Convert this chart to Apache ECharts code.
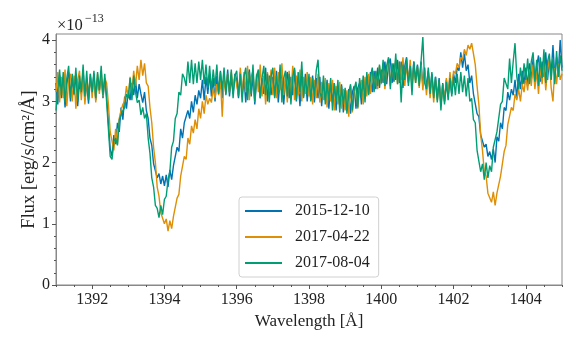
<!DOCTYPE html>
<html>
<head>
    <meta charset="utf-8">
    <title>Si IV spectra</title>
    <script src="https://cdn.jsdelivr.net/npm/echarts@6/dist/echarts.min.js"></script>
    <style type="text/css">
        body {
            margin: 0;
            background: #fff;
        }

        #main {
            width: 581px;
            height: 349px;
        }
    </style>
</head>
<body>
<div id="main"></div>
<script>
    // wavelength grid: 1391.00 .. 1405.00 in 0.05 A steps (one row below = 1 A)
    var waveStart = 1391;
    var waveStep = 0.05;

    // flux in units of 1e-13 erg/s/cm2/A
    var flux20151210 = [
        3.30, 2.95, 3.42, 3.05, 3.35, 2.90, 3.28, 3.48, 3.00, 3.38, 3.10, 3.45, 2.92, 3.32, 3.12, 3.50, 3.02, 3.30, 2.96, 3.40, // 1391
        3.15, 3.45, 3.02, 3.38, 3.18, 3.42, 3.05, 3.35, 3.08, 2.65, 2.22, 2.10, 2.45, 2.30, 2.65, 2.50, 2.90, 2.70, 3.08, 2.88, // 1392
        3.18, 3.02, 3.30, 3.10, 3.35, 3.05, 3.28, 3.12, 2.98, 3.15, 2.85, 2.72, 2.40, 2.28, 1.98, 1.95, 1.75, 1.82, 1.65, 1.78, // 1393
        1.62, 1.80, 1.60, 1.88, 1.72, 1.95, 1.98, 2.25, 2.18, 2.55, 2.40, 2.65, 2.62, 2.85, 2.72, 3.00, 2.82, 3.10, 2.95, 3.18, // 1394
        3.05, 3.35, 3.02, 3.40, 3.12, 3.45, 3.08, 3.38, 3.00, 3.42, 3.15, 3.50, 3.05, 3.38, 3.18, 3.52, 3.08, 3.40, 3.12, 3.45, // 1395
        3.35, 3.05, 3.48, 3.12, 3.40, 2.98, 3.38, 3.52, 3.08, 3.42, 2.95, 3.35, 3.48, 3.05, 3.38, 3.12, 3.55, 3.00, 3.42, 3.10, // 1396
        3.40, 3.08, 3.50, 2.98, 3.35, 3.45, 2.95, 3.32, 3.48, 3.05, 3.40, 3.10, 3.52, 3.00, 3.35, 2.92, 3.42, 3.08, 3.45, 3.00, // 1397
        3.35, 3.02, 3.42, 2.98, 3.38, 3.05, 3.40, 2.92, 3.30, 3.02, 3.35, 2.88, 3.28, 2.98, 3.30, 2.85, 3.25, 2.95, 3.28, 2.82, // 1398
        3.18, 2.85, 3.20, 2.80, 3.15, 3.25, 2.88, 3.22, 3.30, 2.95, 3.35, 3.05, 3.42, 3.12, 3.48, 3.15, 3.50, 3.20, 3.55, 3.22, // 1399
        3.52, 3.30, 3.65, 3.28, 3.60, 3.70, 3.30, 3.62, 3.35, 3.68, 3.30, 3.65, 3.22, 3.58, 3.72, 3.32, 3.60, 3.28, 3.65, 3.35, // 1400
        3.60, 3.30, 3.65, 3.25, 3.55, 3.20, 3.50, 3.15, 3.45, 3.10, 3.40, 3.05, 3.38, 2.95, 3.30, 3.00, 3.35, 3.08, 3.40, 3.12, // 1401
        3.45, 3.30, 3.55, 3.50, 3.80, 3.55, 3.78, 3.50, 3.60, 3.30, 3.42, 3.12, 3.15, 2.80, 2.75, 2.45, 2.48, 2.25, 2.30, 2.10, // 1402
        2.18, 2.05, 2.22, 2.00, 2.42, 2.35, 2.65, 2.55, 2.90, 2.85, 3.15, 3.02, 3.20, 3.10, 3.35, 3.05, 3.45, 3.20, 3.50, 3.28, // 1403
        3.55, 3.25, 3.62, 3.35, 3.70, 3.30, 3.58, 3.75, 3.32, 3.65, 3.40, 3.80, 3.35, 3.68, 3.45, 3.92, 3.40, 3.72, 3.50, 4.00, // 1404
        3.55
    ];
    var flux20170422 = [
        3.15, 3.48, 2.98, 3.40, 3.05, 3.52, 2.92, 3.35, 3.45, 3.00, 3.42, 2.88, 3.35, 3.50, 3.02, 3.40, 2.95, 3.38, 3.10, 3.45, // 1391
        3.05, 3.40, 2.98, 3.45, 3.12, 3.50, 3.08, 3.38, 3.30, 2.95, 2.50, 2.35, 2.20, 2.55, 2.30, 2.72, 2.85, 2.95, 3.00, 3.25, // 1392
        3.05, 3.40, 3.15, 3.50, 3.25, 3.58, 3.35, 3.68, 3.42, 3.62, 3.30, 3.25, 2.90, 2.65, 2.25, 2.00, 1.60, 1.45, 1.18, 1.15, // 1393
        1.00, 1.08, 0.88, 1.05, 0.92, 1.12, 1.10, 1.42, 1.48, 1.78, 1.80, 2.10, 2.05, 2.40, 2.30, 2.60, 2.48, 2.70, 2.55, 2.88, // 1394
        2.72, 3.00, 2.80, 3.10, 2.95, 3.05, 2.98, 3.22, 3.05, 3.28, 3.10, 3.35, 2.75, 3.40, 3.12, 3.45, 3.15, 3.48, 3.20, 3.42, // 1395
        3.45, 3.10, 3.55, 3.08, 3.48, 3.15, 3.58, 3.02, 3.40, 3.50, 3.00, 3.45, 3.15, 3.60, 3.08, 3.42, 2.95, 3.48, 3.18, 3.52, // 1396
        3.10, 3.55, 3.05, 3.48, 3.18, 3.62, 3.10, 3.45, 2.98, 3.50, 3.12, 3.58, 3.02, 3.42, 3.10, 3.52, 3.00, 3.40, 3.12, 3.48, // 1397
        3.08, 3.40, 2.95, 3.35, 3.05, 3.45, 2.98, 3.32, 3.02, 3.38, 2.90, 3.30, 3.00, 3.35, 2.85, 3.25, 2.95, 3.32, 2.88, 3.20, // 1398
        2.85, 3.18, 2.75, 3.25, 2.82, 3.15, 3.28, 2.88, 3.22, 3.35, 2.95, 3.40, 3.08, 3.45, 3.12, 3.52, 3.18, 3.48, 3.20, 3.58, // 1399
        3.28, 3.62, 3.20, 3.55, 3.68, 3.25, 3.60, 3.32, 3.70, 3.28, 3.65, 3.35, 3.72, 3.25, 3.60, 3.30, 3.68, 3.22, 3.58, 3.30, // 1400
        3.55, 3.22, 3.60, 3.18, 3.50, 3.10, 3.45, 3.05, 3.40, 2.98, 3.35, 3.02, 3.32, 2.92, 3.28, 3.00, 3.38, 3.10, 3.48, 3.20, // 1401
        3.50, 3.45, 3.62, 3.55, 3.72, 3.68, 3.85, 3.75, 3.92, 3.85, 3.95, 3.78, 3.60, 3.25, 2.95, 2.45, 2.20, 1.85, 1.78, 1.50, // 1402
        1.52, 1.35, 1.52, 1.30, 1.50, 1.48, 1.78, 1.80, 2.18, 2.28, 2.62, 2.62, 2.90, 2.85, 3.12, 3.02, 3.20, 3.00, 3.28, 3.15, // 1403
        3.40, 3.18, 3.52, 3.25, 3.60, 3.20, 3.50, 3.12, 3.58, 3.28, 3.65, 3.18, 3.50, 3.70, 3.22, 3.00, 3.55, 3.28, 3.62, 3.35, // 1404
        3.45
    ];
    var flux20170804 = [
        2.85, 3.20, 3.52, 3.10, 3.48, 2.98, 3.38, 3.58, 3.05, 3.45, 3.12, 3.55, 3.00, 3.42, 3.15, 3.60, 3.08, 3.50, 3.02, 3.45, // 1391
        3.15, 3.50, 3.05, 3.48, 3.18, 3.58, 3.10, 3.45, 3.00, 2.55, 2.10, 2.05, 2.35, 2.40, 2.28, 2.70, 2.72, 2.85, 2.90, 3.12, // 1392
        3.05, 3.38, 3.02, 3.42, 3.15, 2.98, 3.02, 2.78, 2.90, 2.72, 2.80, 2.40, 2.15, 1.75, 1.60, 1.30, 1.25, 1.10, 1.30, 1.15, // 1393
        1.40, 1.45, 1.72, 1.85, 2.25, 2.35, 2.72, 2.80, 3.15, 3.10, 3.45, 3.38, 3.25, 3.65, 3.30, 3.68, 3.28, 3.62, 3.30, 3.65, // 1394
        3.35, 3.68, 3.28, 3.60, 3.22, 3.58, 3.18, 3.52, 3.25, 3.60, 3.12, 3.48, 3.20, 3.55, 3.10, 3.45, 3.15, 3.52, 3.05, 3.42, // 1395
        3.50, 3.08, 3.45, 2.98, 3.40, 3.55, 3.02, 3.48, 3.12, 3.60, 3.00, 3.42, 3.52, 3.05, 3.38, 3.58, 3.10, 3.45, 2.98, 3.40, // 1396
        3.55, 3.05, 3.42, 3.12, 3.60, 2.98, 3.38, 3.50, 3.08, 3.45, 2.95, 3.40, 3.55, 3.02, 3.48, 3.15, 3.65, 3.05, 3.40, 3.10, // 1397
        3.45, 3.00, 3.38, 3.08, 3.50, 3.68, 3.15, 3.05, 3.42, 2.95, 3.32, 3.02, 3.38, 2.85, 3.30, 3.00, 3.35, 2.82, 3.25, 2.95, // 1398
        3.22, 2.80, 3.15, 3.28, 2.85, 3.20, 3.32, 2.90, 3.38, 3.05, 3.42, 2.98, 3.48, 3.10, 3.40, 3.55, 3.15, 3.50, 3.25, 3.60, // 1399
        3.30, 3.68, 3.25, 3.58, 3.72, 3.20, 3.62, 3.32, 3.78, 3.28, 3.65, 2.98, 3.60, 3.35, 3.70, 3.25, 3.58, 3.10, 3.65, 3.30, // 1400
        3.58, 3.25, 3.65, 4.05, 3.30, 3.20, 3.55, 3.12, 3.48, 3.05, 3.40, 2.98, 3.35, 2.85, 3.28, 2.95, 3.32, 3.02, 3.38, 3.08, // 1401
        3.40, 3.10, 3.45, 3.12, 3.48, 3.15, 3.42, 3.08, 3.38, 3.00, 3.05, 2.70, 2.65, 2.20, 2.20, 1.85, 1.98, 1.72, 2.00, 1.75, // 1402
        1.95, 1.85, 2.25, 2.25, 2.50, 2.50, 2.95, 3.00, 3.38, 3.40, 3.20, 3.70, 3.30, 3.65, 3.95, 3.40, 3.20, 3.55, 3.28, 3.62, // 1403
        3.35, 3.70, 3.28, 3.65, 3.80, 3.32, 3.68, 3.25, 3.72, 3.38, 3.85, 3.30, 3.65, 3.78, 3.35, 3.70, 3.28, 3.82, 3.40, 3.75, // 1404
        3.50
    ];

    var seriesNames = ['2015-12-10', '2017-04-22', '2017-08-04'];
    var seriesColors = ['#0173b2', '#de8f05', '#029e73'];

    var xMajorTicks = [1392, 1394, 1396, 1398, 1400, 1402, 1404];
    var xMinorTicks = [1391, 1391.5, 1392, 1392.5, 1393, 1393.5, 1394, 1394.5, 1395, 1395.5, 1396, 1396.5,
        1397, 1397.5, 1398, 1398.5, 1399, 1399.5, 1400, 1400.5, 1401, 1401.5, 1402, 1402.5,
        1403, 1403.5, 1404, 1404.5, 1405];
    var yMajorTicks = [0, 1, 2, 3, 4];
    var yMinorTicks = [0, 0.2, 0.4, 0.6, 0.8, 1, 1.2, 1.4, 1.6, 1.8, 2, 2.2, 2.4, 2.6, 2.8,
        3, 3.2, 3.4, 3.6, 3.8, 4];

    function pairs(values) {
        var out = [];
        for (var i = 0; i < values.length; i++) {
            out.push([+(waveStart + i * waveStep).toFixed(2), values[i]]);
        }
        return out;
    }

    var allFlux = [flux20151210, flux20170422, flux20170804];
    var serif = 'Liberation Serif, DejaVu Serif, serif';
    var textColor = '#222';
    var frameColor = '#888';

    var series = [];
    for (var s = 0; s < allFlux.length; s++) {
        series.push({
            name: seriesNames[s],
            type: 'line',
            symbol: 'none',
            data: pairs(allFlux[s]),
            lineStyle: {width: 1.4, color: seriesColors[s]},
            itemStyle: {color: seriesColors[s]},
            z: 2 + s
        });
    }

    var myChart = echarts.init(document.getElementById('main'));

    var option = {
        animation: false,
        grid: {left: 56, right: 19, top: 34, bottom: 64, show: true, borderColor: frameColor, borderWidth: 1},
        legend: {
            data: seriesNames,
            orient: 'vertical',
            left: 239,
            top: 197,
            icon: 'path://M0,0 L37,0 L37,2 L0,2 Z',
            itemWidth: 37,
            itemHeight: 14,
            itemGap: 10,
            padding: [6, 9, 6, 6],
            borderColor: '#d0d0d0',
            borderWidth: 1,
            borderRadius: 3,
            backgroundColor: 'rgba(255,255,255,0.85)',
            textStyle: {fontFamily: serif, fontSize: 16, color: textColor, lineHeight: 15, padding: [0, 0, 0, 8]}
        },
        xAxis: [{
            type: 'value',
            min: 1391,
            max: 1405,
            name: 'Wavelength [Å]',
            nameLocation: 'middle',
            nameGap: 26,
            nameTextStyle: {fontFamily: serif, fontSize: 17, color: textColor},
            axisLine: {show: true, onZero: false, lineStyle: {color: frameColor, width: 1}},
            axisTick: {show: true, length: 4, customValues: xMajorTicks, lineStyle: {color: '#555'}},
            axisLabel: {
                customValues: xMajorTicks, fontFamily: serif, fontSize: 16, color: textColor, margin: 7,
                formatter: function (v) { return String(v); }
            },
            splitLine: {show: false}
        }, {
            type: 'value',
            min: 1391,
            max: 1405,
            position: 'bottom',
            axisLine: {show: false},
            axisTick: {show: true, length: 2, customValues: xMinorTicks, lineStyle: {color: '#555'}},
            axisLabel: {show: false},
            splitLine: {show: false}
        }],
        yAxis: [{
            type: 'value',
            min: 0,
            max: 4.1,
            name: 'Flux [erg/s/cm²/Å]',
            nameLocation: 'middle',
            nameGap: 17,
            nameMoveOverlap: false,
            nameTextStyle: {fontFamily: serif, fontSize: 18.5, color: textColor},
            axisLine: {show: true, lineStyle: {color: frameColor, width: 1}},
            axisTick: {show: true, length: 4, customValues: yMajorTicks, lineStyle: {color: '#555'}},
            axisLabel: {customValues: yMajorTicks, fontFamily: serif, fontSize: 16, color: textColor, margin: 6},
            splitLine: {show: false}
        }, {
            type: 'value',
            min: 0,
            max: 4.1,
            position: 'left',
            axisLine: {show: false},
            axisTick: {show: true, length: 2, customValues: yMinorTicks, lineStyle: {color: '#555'}},
            axisLabel: {show: false},
            splitLine: {show: false}
        }],
        graphic: [{
            type: 'text',
            left: 57,
            top: 17,
            style: {text: '×10', font: '16.5px ' + serif, fill: textColor}
        }, {
            type: 'text',
            left: 85,
            top: 13,
            style: {text: '−13', font: '12px ' + serif, fill: textColor}
        }],
        series: series
    };
    myChart.setOption(option);
</script>
</body>
</html>
